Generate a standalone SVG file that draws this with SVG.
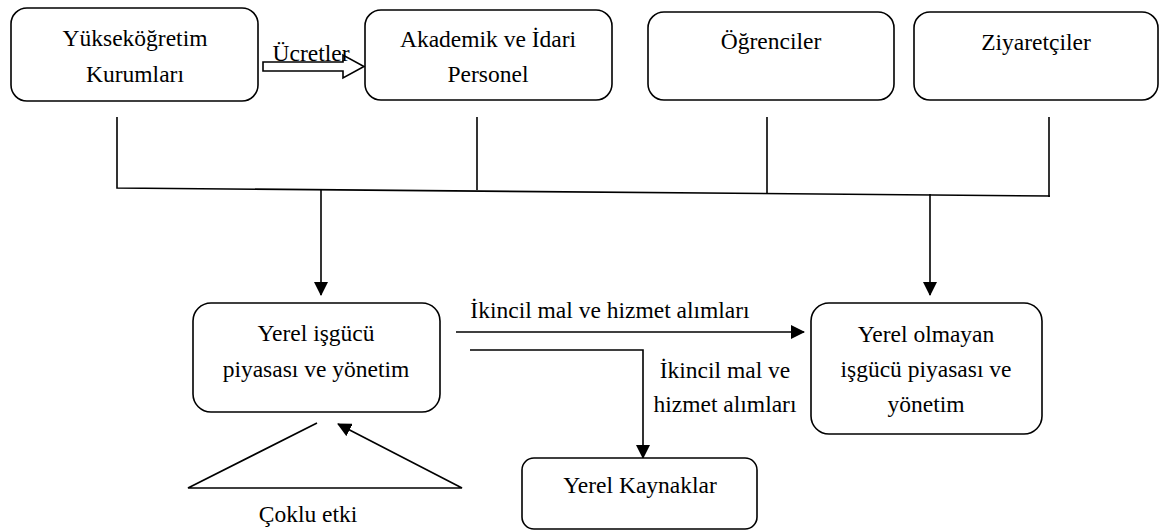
<svg xmlns="http://www.w3.org/2000/svg" width="1160" height="531" viewBox="0 0 1160 531">
<style>
.box{fill:#fff;stroke:#000;stroke-width:1.6}
.ln{fill:none;stroke:#000;stroke-width:1.6}
.t{font-family:'Liberation Serif','Times New Roman',serif;font-size:23.5px;fill:#000;text-anchor:middle}
</style>
<defs>
<marker id="ah" markerWidth="14" markerHeight="14" refX="13" refY="7" orient="auto" markerUnits="userSpaceOnUse">
<path d="M0,0 L14,7 L0,14 Z" fill="#000"/>
</marker>
</defs>
<rect width="1160" height="531" fill="#fff"/>
<g id="connectors">
<path class="ln" d="M117,117 V188 L1050,196"/>
<line class="ln" x1="477" y1="117" x2="477" y2="190"/>
<line class="ln" x1="767" y1="117" x2="767" y2="193"/>
<line class="ln" x1="1049" y1="117" x2="1049" y2="197"/>
<line class="ln" x1="321" y1="190" x2="321" y2="295" marker-end="url(#ah)"/>
<line class="ln" x1="930" y1="194" x2="930" y2="295" marker-end="url(#ah)"/>
<path class="ln" d="M263,62 H343 V55 L364,66.5 L343,78 V71 H263 Z" stroke-width="1.4"/>
<line class="ln" x1="456" y1="332" x2="804" y2="332" marker-end="url(#ah)"/>
<path class="ln" d="M470,350 H643 V458" marker-end="url(#ah)"/>
<path class="ln" d="M317,423 L188,488 H462 L338,424" marker-end="url(#ah)"/>
<g class="t">
<text x="311" y="61">Ücretler</text>
<text x="610" y="318">İkincil mal ve hizmet alımları</text>
<text x="725" y="378">İkincil mal ve</text>
<text x="725" y="412">hizmet alımları</text>
<text x="308" y="522">Çoklu etki</text>
</g>
</g>
<g id="n1"><rect class="box" x="11" y="8" width="247" height="93" rx="16"/><g class="t"><text x="135" y="46">Yükseköğretim</text><text x="135" y="82">Kurumları</text></g></g>
<g id="n2"><rect class="box" x="365" y="10" width="247" height="90" rx="16"/><g class="t"><text x="488" y="47">Akademik ve İdari</text><text x="488" y="82">Personel</text></g></g>
<g id="n3"><rect class="box" x="648" y="12" width="246" height="88" rx="16"/><g class="t"><text x="771" y="49">Öğrenciler</text></g></g>
<g id="n4"><rect class="box" x="914" y="12" width="244" height="88" rx="16"/><g class="t"><text x="1036" y="50">Ziyaretçiler</text></g></g>
<g id="n5"><rect class="box" x="193" y="303" width="247" height="109" rx="18"/><g class="t"><text x="316" y="341">Yerel işgücü</text><text x="316" y="377">piyasası ve yönetim</text></g></g>
<g id="n6"><rect class="box" x="811" y="303" width="231" height="131" rx="18"/><g class="t"><text x="926" y="342">Yerel olmayan</text><text x="926" y="377">işgücü piyasası ve</text><text x="926" y="412">yönetim</text></g></g>
<g id="n7"><rect class="box" x="522" y="458" width="235" height="71" rx="12"/><g class="t"><text x="640" y="493">Yerel Kaynaklar</text></g></g>
</svg>
